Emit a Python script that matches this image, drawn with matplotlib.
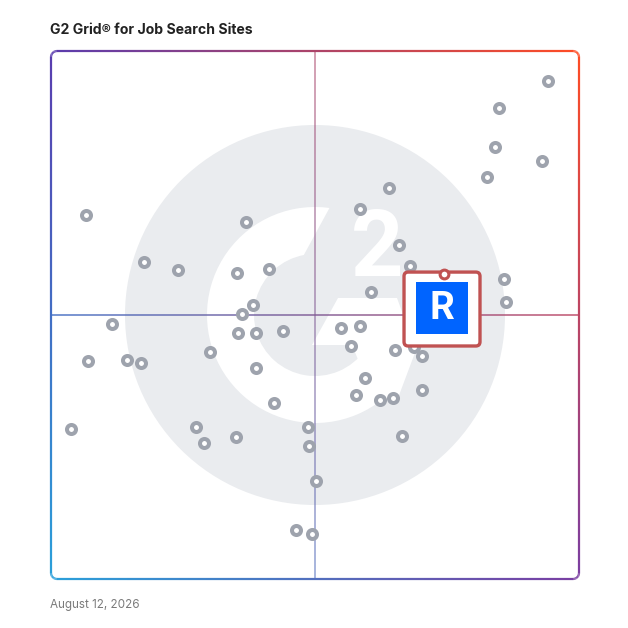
import numpy as np
import matplotlib
matplotlib.use("Agg")
import matplotlib.pyplot as plt
from matplotlib.colors import to_rgb
from matplotlib.collections import LineCollection
from matplotlib.patches import Circle, Wedge, Polygon, FancyBboxPatch

# satisfaction (x) and market presence (y), 0-100 scale
sat = [6.6, 36.9, 17.7, 24.0, 35.2, 41.2, 38.3, 36.2, 11.5,
       94.2, 84.8, 84.0, 92.9, 82.5, 64.0, 58.6, 66.0, 67.9, 60.7, 85.8, 86.1,
       35.5, 38.8, 44.0, 7.0, 14.3, 17.1, 30.1, 38.8, 42.2, 3.7, 27.5, 29.0,
       35.0, 48.7, 48.9, 50.1, 46.4, 49.5,
       55.0, 58.5, 56.8, 65.2, 68.8, 70.3, 59.5, 57.8, 62.3, 64.8, 70.3, 66.5]
pres = [69.0, 67.6, 60.1, 58.5, 57.9, 58.8, 51.8, 50.2, 48.3,
        94.3, 89.2, 81.8, 79.2, 76.1, 74.0, 70.0, 63.2, 59.3, 54.4, 56.9, 52.4,
        46.6, 46.5, 47.0, 41.3, 41.5, 41.0, 42.9, 39.9, 33.4, 28.4, 28.8, 25.8,
        26.8, 28.8, 25.2, 18.6, 9.2, 8.5,
        47.5, 48.0, 44.2, 43.4, 44.0, 42.2, 38.1, 34.8, 33.9, 34.3, 35.8, 27.0]

# highlighted product
hl_sat, hl_pres = 74.4, 57.8
hl_label = "R"

title = "G2 Grid\u00ae for Job Search Sites"
date_text = "August 12, 2026"

TL, TR = np.array(to_rgb("#5a3cae")), np.array(to_rgb("#ff4c24"))
BL, BR = np.array(to_rgb("#2aa0da")), np.array(to_rgb("#7a3ea2"))


def grad(u, v):
    top = (1 - u) * TL + u * TR
    bot = (1 - u) * BL + u * BR
    return np.clip(v * top + (1 - v) * bot, 0, 1)


def grad_line(xs, ys):
    pts = np.column_stack([xs, ys])
    segs = np.stack([pts[:-1], pts[1:]], axis=1)
    mid = segs.mean(axis=1) / 100.0
    cols = [grad(u, v) for u, v in mid]
    return segs, cols


def rounded_rect(r=1.15, n=60):
    xs, ys = [], []
    t = np.linspace(0, 1, n)
    corners = [((100 - r, 100 - r), 90, 0), ((100 - r, r), 0, -90),
               ((r, r), 270, 180), ((r, 100 - r), 180, 90)]
    for (cx, cy), a0, a1 in corners:
        a = np.radians(np.linspace(a0, a1, 12))
        xs.extend(cx + r * np.cos(a))
        ys.extend(cy + r * np.sin(a))
    xs.append(xs[0]); ys.append(ys[0])
    X, Y = [], []
    for i in range(len(xs) - 1):
        if np.hypot(xs[i + 1] - xs[i], ys[i + 1] - ys[i]) > 1:
            X.extend(xs[i] + (xs[i + 1] - xs[i]) * t[:-1])
            Y.extend(ys[i] + (ys[i + 1] - ys[i]) * t[:-1])
        else:
            X.append(xs[i]); Y.append(ys[i])
    X.append(xs[-1]); Y.append(ys[-1])
    return np.array(X), np.array(Y)


fig = plt.figure(figsize=(6.28, 6.28), dpi=100)
ax = fig.add_axes([51 / 628, 49 / 628, 528 / 628, 528 / 628])
ax.set_xlim(0, 100)
ax.set_ylim(0, 100)
ax.set_aspect("equal")
ax.axis("off")

# faded G2 logo in the background
grey = "#eaecef"
px = 100 / 528.0
c = (50, 50)
ax.add_patch(Circle(c, 190 * px, color=grey, zorder=0, lw=0))
ax.add_patch(Wedge(c, 108 * px, 68, 325, width=47 * px, color="white", zorder=1, lw=0))


def p2d(x, y):
    return ((x - 51) * px, (579 - y) * px)


ax.add_patch(Polygon([p2d(336, 196), p2d(372, 196), p2d(372, 262), p2d(300, 262)],
                     closed=True, color=grey, zorder=1.5, lw=0))
ax.add_patch(Polygon([p2d(312, 345), p2d(338, 298), p2d(397, 298), p2d(416, 350),
                      p2d(398, 398), p2d(374, 398), p2d(352, 345)],
                     closed=True, color="white", zorder=1, lw=0))
ax.text(*p2d(377, 251), "2", color="white", fontsize=66, fontweight="bold",
        family="Roboto", ha="center", va="center", zorder=2)

# quadrant lines
segs, cols = grad_line(np.linspace(0, 100, 200), np.full(200, 50.0))
ax.add_collection(LineCollection(segs, colors=cols, linewidths=1.2, alpha=0.85,
                                 zorder=3, clip_on=False))
segs, cols = grad_line(np.full(200, 50.0), np.linspace(0, 100, 200))
ax.add_collection(LineCollection(segs, colors=cols, linewidths=1.2, alpha=0.6,
                                 zorder=3, clip_on=False))

# border
bx, by = rounded_rect()
segs, cols = grad_line(bx, by)
ax.add_collection(LineCollection(segs, colors=cols, linewidths=1.6,
                                 zorder=4, capstyle="butt", clip_on=False))

# vendors
ax.scatter(sat, pres, s=42, facecolor="white", edgecolor="#9ea3ad",
           linewidths=2.9, zorder=5, clip_on=False)

# highlighted product card
red = "#c05252"
ax.add_patch(FancyBboxPatch((hl_sat - 7.54, hl_pres - 13.67), 14.39, 14.0,
                            boxstyle="round,pad=0,rounding_size=0.8",
                            facecolor="white", edgecolor=red, lw=2.4, zorder=6))
ax.add_patch(FancyBboxPatch((hl_sat - 5.27, hl_pres - 11.4), 9.85, 9.85,
                            boxstyle="square,pad=0", facecolor="#0064ff",
                            edgecolor="none", zorder=7))
ax.text(hl_sat - 0.35, hl_pres - 6.5, hl_label, color="white", fontsize=28,
        fontweight="bold", family="Roboto", ha="center", va="center", zorder=8)
ax.scatter([hl_sat], [hl_pres], s=40, facecolor="white", edgecolor=red,
           linewidths=2.2, zorder=9, clip_on=False)

fig.text(50 / 628, 1 - 34.3 / 628, title, fontsize=10.1, fontweight="bold",
         family="Inter", color="#222222", ha="left", va="baseline")
fig.text(50 / 628, 1 - 608.3 / 628, date_text, fontsize=8.4, family="Inter",
         color="#7a7a7a", ha="left", va="baseline")

fig.savefig("out.png", dpi=100, facecolor="white")
